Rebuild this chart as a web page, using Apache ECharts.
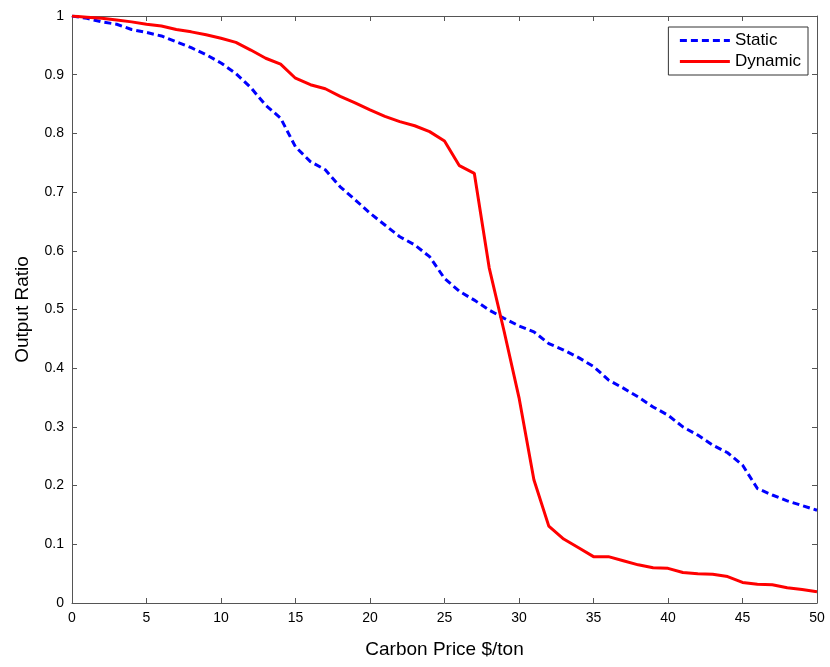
<!DOCTYPE html>
<html><head><meta charset="utf-8">
<script src="https://cdn.jsdelivr.net/npm/echarts@6/dist/echarts.min.js"></script>
<style>html,body{margin:0;padding:0;background:#fff}#c{width:830px;height:667px}</style>
</head><body><div id="c"></div>
<script>
const carbonPrice = [0,1,2,3,4,5,6,7,8,9,10,11,12,13,14,15,16,17,18,19,20,21,22,23,24,25,26,27,28,29,30,31,32,33,34,35,36,37,38,39,40,41,42,43,44,45,46,47,48,49,50];
const staticRatio = [1.0,0.996,0.990,0.986,0.977,0.972,0.966,0.956,0.946,0.934,0.920,0.902,0.878,0.848,0.826,0.777,0.752,0.738,0.709,0.687,0.664,0.644,0.624,0.610,0.590,0.553,0.531,0.516,0.499,0.485,0.472,0.462,0.442,0.431,0.418,0.403,0.380,0.366,0.351,0.334,0.320,0.300,0.286,0.269,0.256,0.235,0.195,0.184,0.174,0.166,0.158];
const dynamicRatio = [1.0,0.998,0.996,0.993,0.990,0.986,0.983,0.977,0.973,0.968,0.962,0.955,0.942,0.928,0.918,0.894,0.883,0.876,0.863,0.852,0.840,0.829,0.820,0.813,0.803,0.787,0.745,0.732,0.571,0.463,0.350,0.210,0.131,0.109,0.094,0.079,0.079,0.072,0.065,0.060,0.059,0.052,0.050,0.049,0.045,0.035,0.032,0.031,0.026,0.023,0.019];
const xTicks = [0,5,10,15,20,25,30,35,40,45,50];
const yTicks = [0,0.1,0.2,0.3,0.4,0.5,0.6,0.7,0.8,0.9,1];

const font = 'Liberation Sans, Arial, Helvetica, sans-serif';
const axisCol = '#555';
const chart = echarts.init(document.getElementById('c'), null, {renderer:'canvas'});
const staticData = carbonPrice.map((x,i)=>[x, staticRatio[i]]);
const dynamicData = carbonPrice.map((x,i)=>[x, dynamicRatio[i]]);
const baseX = {type:'value', min:0, max:50, interval:5,
  axisLine:{show:true, onZero:false, lineStyle:{color:axisCol, width:1}},
  axisTick:{show:true, inside:true, length:5, lineStyle:{color:axisCol}},
  splitLine:{show:false}};
const baseY = {type:'value', min:0, max:1, interval:0.1,
  axisLine:{show:true, onZero:false, lineStyle:{color:axisCol, width:1}},
  axisTick:{show:true, inside:true, length:5, lineStyle:{color:axisCol}},
  splitLine:{show:false}};
chart.setOption({
  animation:false,
  backgroundColor:'#fff',
  grid:{left:72, right:13, top:16, bottom:64, containLabel:false},
  legend:{
    data:['Static','Dynamic'],
    orient:'vertical', right:22, top:27,
    backgroundColor:'#fff', borderColor:'#333', borderWidth:1,
    padding:[5,7,5,10], itemGap:4, itemWidth:50, itemHeight:16,
    itemStyle:{opacity:0, borderWidth:0},
    lineStyle:{width:3},
    textStyle:{fontFamily:font, fontSize:17, color:'#000'}
  },
  xAxis:[
    Object.assign({}, baseX, {position:'bottom',
      name:'Carbon Price $/ton', nameLocation:'middle', nameGap:37,
      nameTextStyle:{fontFamily:font, fontSize:19, color:'#000'},
      axisLabel:{fontFamily:font, fontSize:14, color:'#000', margin:8,
        formatter:v=>xTicks.includes(v)?String(v):''}}),
    Object.assign({}, baseX, {position:'top', axisLabel:{show:false}})
  ],
  yAxis:[
    Object.assign({}, baseY, {position:'left',
      name:'Output Ratio', nameLocation:'middle', nameGap:40,
      nameTextStyle:{fontFamily:font, fontSize:19, color:'#000'},
      axisLabel:{fontFamily:font, fontSize:14, color:'#000', margin:8,
        formatter:v=>{const t=yTicks.find(y=>Math.abs(y-v)<1e-9);return t===undefined?'':String(t);}}}),
    Object.assign({}, baseY, {position:'right', axisLabel:{show:false}})
  ],
  series:[
    {name:'Static', type:'line', data:staticData, xAxisIndex:0, yAxisIndex:0,
      symbol:'none', smooth:false,
      lineStyle:{color:'#0000ff', width:3, type:[7,4]}, itemStyle:{color:'#0000ff'}},
    {name:'Dynamic', type:'line', data:dynamicData, xAxisIndex:0, yAxisIndex:0,
      symbol:'none', smooth:false,
      lineStyle:{color:'#ff0000', width:3}, itemStyle:{color:'#ff0000'}}
  ]
});
</script></body></html>
